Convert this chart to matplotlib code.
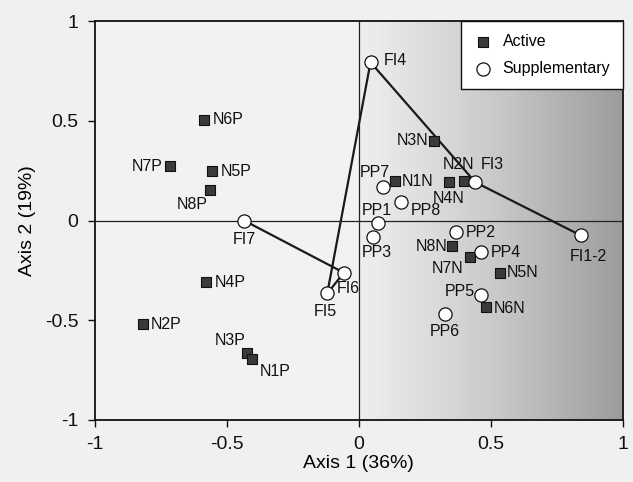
import numpy as np
import matplotlib
matplotlib.use("Agg")
import matplotlib.pyplot as plt
from matplotlib.colors import LinearSegmentedColormap

plt.rcParams["font.family"] = ["Liberation Sans", "DejaVu Sans"]

# Active variables (squares)
active_labels = ["N6P", "N7P", "N5P", "N8P", "N4P", "N2P", "N3P", "N1P",
                 "N3N", "N2N", "N4N", "N1N", "N8N", "N7N", "N5N", "N6N"]
active_x = [-0.588, -0.715, -0.558, -0.563, -0.578, -0.819, -0.424, -0.406,
            0.285, 0.398, 0.340, 0.137, 0.353, 0.419, 0.533, 0.480]
active_y = [0.505, 0.272, 0.246, 0.152, -0.309, -0.520, -0.663, -0.693,
            0.400, 0.200, 0.192, 0.196, -0.129, -0.185, -0.262, -0.436]

# Supplementary variables (circles)
supp_labels = ["PP1", "PP2", "PP3", "PP4", "PP5", "PP6", "PP7", "PP8"]
supp_x = [0.072, 0.368, 0.054, 0.464, 0.464, 0.325, 0.090, 0.161]
supp_y = [-0.012, -0.060, -0.085, -0.160, -0.373, -0.470, 0.169, 0.095]

# FI trajectory (supplementary, connected in this order)
fi_labels = ["FI7", "FI6", "FI5", "FI4", "FI3", "FI1-2"]
fi_x = [-0.435, -0.057, -0.120, 0.044, 0.441, 0.841]
fi_y = [0.000, -0.262, -0.366, 0.794, 0.192, -0.075]

# label offsets in pixels (dx, dy, ha)
label_offsets = {
    "N6P": (9, 0, "left"), "N7P": (-8, 0, "right"), "N5P": (9, 0, "left"),
    "N8P": (-3, -14, "right"), "N4P": (8, 0, "left"), "N2P": (8, 0, "left"),
    "N3P": (-1, 12, "right"), "N1P": (8, -13, "left"),
    "N3N": (-6, 0, "right"), "N2N": (-5, 16, "center"), "N4N": (0, -16, "center"),
    "N1N": (7, 0, "left"), "N8N": (-5, 0, "right"), "N7N": (-6, -11, "right"),
    "N5N": (7, 0, "left"), "N6N": (8, -1, "left"),
    "PP1": (-1, 12, "center"), "PP2": (10, 0, "left"), "PP3": (4, -15, "center"),
    "PP4": (9, 0, "left"), "PP5": (-7, 3, "right"), "PP6": (0, -17, "center"),
    "PP7": (-8, 14, "center"), "PP8": (9, -9, "left"),
    "FI7": (0, -19, "center"), "FI6": (-7, -16, "left"), "FI5": (-2, -18, "center"),
    "FI4": (13, 2, "left"), "FI3": (5, 18, "left"), "FI1-2": (7, -21, "center"),
}

fig = plt.figure(figsize=(6.33, 4.82), dpi=100, facecolor="#f0f0ef")
ax = fig.add_axes([0.150, 0.129, 0.834, 0.827])
ax.set_facecolor("#f2f2f1")

# grey gradient over the right half
grad = np.linspace(0, 1, 256).reshape(1, -1) ** 1.1
cmap = LinearSegmentedColormap.from_list("g", ["#eeeeee", "#c8c8c8", "#9c9c9c"])
ax.imshow(grad, extent=[0, 1, -1, 1], aspect="auto", cmap=cmap, zorder=0)

ax.axhline(0, color="#222222", lw=0.9, zorder=1)
ax.axvline(0, color="#222222", lw=0.9, zorder=1)

ax.plot(fi_x, fi_y, color="#1a1a1a", lw=1.6, zorder=2)

ax.scatter(active_x, active_y, marker="s", s=62, color="#3a3a3a",
           edgecolor="#111111", linewidth=0.8, zorder=3, label="Active")
ax.scatter(supp_x + fi_x, supp_y + fi_y, marker="o", s=90, color="white",
           edgecolor="#111111", linewidth=0.9, zorder=3, label="Supplementary")

for labels, xs, ys in [(active_labels, active_x, active_y),
                       (supp_labels, supp_x, supp_y),
                       (fi_labels, fi_x, fi_y)]:
    for lab, x, y in zip(labels, xs, ys):
        dx, dy, ha = label_offsets[lab]
        ax.annotate(lab, (x, y), xytext=(dx, dy), textcoords="offset pixels",
                    ha=ha, va="center", fontsize=11.5, color="#111111", zorder=4)

ax.set_xlim(-1, 1)
ax.set_ylim(-1, 1)
ax.set_xticks([-1, -0.5, 0, 0.5, 1])
ax.set_yticks([-1, -0.5, 0, 0.5, 1])
ax.set_xticklabels(["-1", "-0.5", "0", "0.5", "1"])
ax.set_yticklabels(["-1", "-0.5", "0", "0.5", "1"])
ax.tick_params(direction="out", length=5, width=1, labelsize=14, colors="#111111")
ax.tick_params(axis="y", pad=7)
ax.tick_params(axis="x", pad=7)
for sp in ax.spines.values():
    sp.set_linewidth(1.3)
    sp.set_color("#111111")

ax.set_xlabel("Axis 1 (36%)", fontsize=14, labelpad=1)
ax.set_ylabel("Axis 2 (19%)", fontsize=14, labelpad=6)

leg = ax.legend(loc="upper right", frameon=True, fancybox=False, fontsize=11.5,
                borderaxespad=0, handletextpad=0.6, labelspacing=0.75,
                handlelength=1.2, borderpad=0.8)
leg.get_frame().set_edgecolor("#111111")
leg.get_frame().set_linewidth(1.0)
leg.get_frame().set_facecolor("white")
leg.get_frame().set_alpha(1)

fig.savefig("out.png", dpi=100, facecolor=fig.get_facecolor())
